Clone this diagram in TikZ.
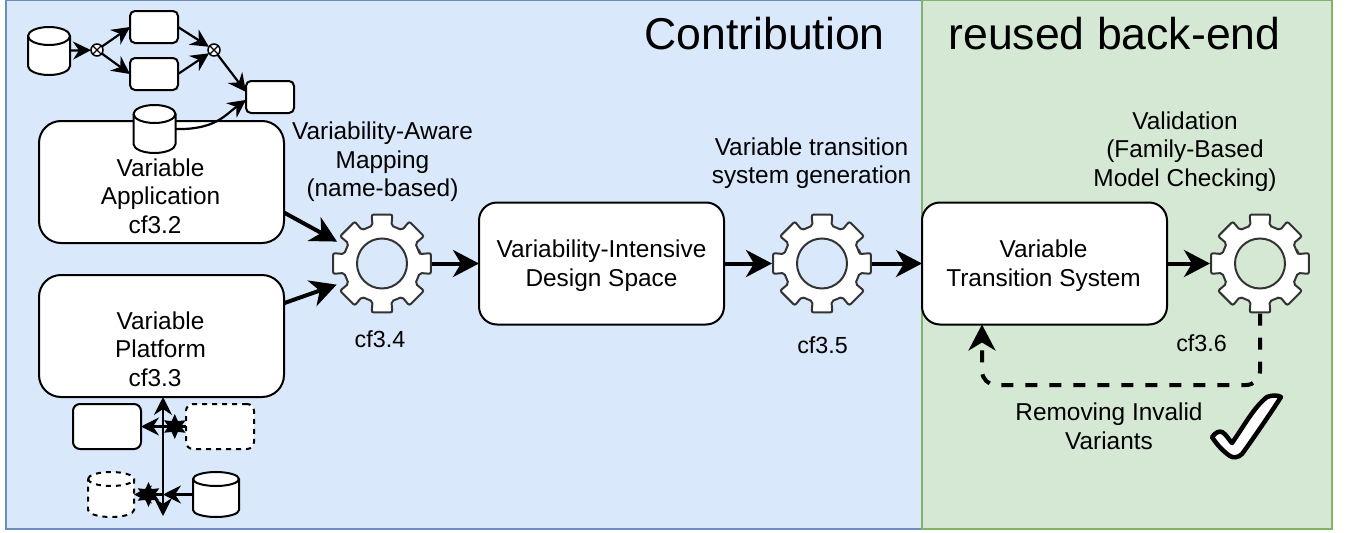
\documentclass[tikz,border=0pt]{standalone}
\usepackage{fontspec}
\setmainfont{Liberation Sans}
\usetikzlibrary{arrows.meta,shapes.geometric}

\definecolor{blueback}{HTML}{DAE8FC}
\definecolor{blueline}{HTML}{6C8EBF}
\definecolor{greenback}{HTML}{D5E8D4}
\definecolor{greenline}{HTML}{82B366}
\definecolor{gearline}{HTML}{333333}

\newcommand{\drawgear}[1]{
    \begin{scope}[shift={(#1)}]
        \draw[fill=white,even odd rule,draw=gearline,line width=2pt,rounded corners=2pt] (-14:39)
            \foreach \a in {0,45,...,315} { -- (\a-14:39) -- (\a-12:50) -- (\a+12:50) -- (\a+14:39) } -- cycle
            (0,0) circle (25);
    \end{scope}
}

% node name, half width, half height, lid height, extra options
\newcommand{\drawdb}[5]{
    \begin{scope}[shift={(#1)}]
        \pgfmathsetmacro{\lidtop}{-#3+#4}
        \pgfmathsetmacro{\lidlow}{-#3+#4+#4}
        \pgfmathsetmacro{\lidctl}{-#3+1.55*#4}
        \pgfmathsetmacro{\lidup}{-#3+.45*#4}
        \pgfmathsetmacro{\botside}{#3-#4}
        \pgfmathsetmacro{\botctl}{#3-.45*#4}
        \draw[line width=2pt,fill=white,#5] (-#2,\lidtop) .. controls (-#2,\lidup) and (-.55*#2,-#3) .. (0,-#3)
            .. controls (.55*#2,-#3) and (#2,\lidup) .. (#2,\lidtop) -- (#2,\botside)
            .. controls (#2,\botctl) and (.55*#2,#3) .. (0,#3)
            .. controls (-.55*#2,#3) and (-#2,\botctl) .. (-#2,\botside) -- cycle;
        \draw[line width=2pt,#5] (-#2,\lidtop) .. controls (-#2,\lidctl) and (-.55*#2,\lidlow) .. (0,\lidlow)
            .. controls (.55*#2,\lidlow) and (#2,\lidctl) .. (#2,\lidtop);
    \end{scope}
}

\begin{document}
\begin{tikzpicture}[x=1pt,y=-1pt]
        \tikzstyle{every node}=[outer sep=0pt,inner sep=0pt]
        \tikzstyle{panel}=[draw,line width=2pt,minimum height=529pt]
        \tikzstyle{title}=[font=\fontsize{44.6}{50}\selectfont]
        \tikzstyle{txt}=[font=\fontsize{24.4}{28.5}\selectfont,align=center]
        \tikzstyle{cflabel}=[font=\fontsize{23.3}{28}\selectfont]
        \tikzstyle{bigbox}=[draw,fill=white,line width=2pt,rounded corners=22pt,minimum width=245pt,minimum height=122pt]
        \tikzstyle{smallbox}=[draw,fill=white,line width=2pt,rounded corners=5pt,minimum width=48pt,minimum height=32pt]
        \tikzstyle{varbox}=[smallbox,rounded corners=7pt,minimum width=68pt,minimum height=45pt]
        \tikzstyle{db}=[minimum width=42pt,minimum height=48pt]
        \tikzstyle{vardb}=[minimum width=46pt,minimum height=45pt]
        \tikzstyle{xorgate}=[circle,draw,fill=white,line width=1.5pt,minimum size=12pt,path picture={
            \draw[line width=1.2pt] (path picture bounding box.south west) -- (path picture bounding box.north east)
            (path picture bounding box.north west) -- (path picture bounding box.south east);}]
        \tikzstyle{gear}=[circle,minimum size=100pt]
        \tikzstyle{flow}=[line width=2.2pt,-{Stealth[length=18pt,width=18pt,inset=6pt]}]
        \tikzstyle{bigflow}=[line width=4pt,-{Stealth[length=26pt,width=27pt,inset=8pt]}]
        \tikzstyle{xtip}=[star,star points=6,star point ratio=2,fill=black,minimum size=25pt]

        \useasboundingbox (0,0) rectangle (1345,533);

% The two panels behind everything

        \node[panel,fill=blueback,draw=blueline,minimum width=916pt,anchor=north west] (contrib) at (6,0) {};
        \node[panel,fill=greenback,draw=greenline,minimum width=410pt,anchor=north west] (backend) at (922,0) {};
        \node[title] (contribtitle) at (764.5,34) {Contribution};
        \node[title] (backendtitle) at (1114.5,34) {reused back-end};

% The main chain

        \node[bigbox] (app) at (161.5,182) {};
        \node[txt] (apptext) at (160.5,196) {Variable\\Application\\cf3.2\hspace*{11pt}};
        \node[bigbox] (platform) at (161.5,336) {};
        \node[txt] (platformtext) at (160.5,349) {Variable\\Platform\\cf3.3\hspace*{11pt}};
        \node[bigbox,rounded corners=18pt] (space) at (601.5,263.5) {};
        \node[txt] (spacetext) at (601.5,265.5) {Variability-Intensive\\Design Space};
        \node[bigbox,rounded corners=18pt] (vts) at (1044.5,263.5) {};
        \node[txt] (vtstext) at (1043.5,265.5) {Variable\\Transition System};
        \node[gear] (gearmap) at (382,263.5) {};
        \node[gear] (geargen) at (822,263.5) {};
        \node[gear] (gearval) at (1260,263.5) {};
        \drawgear{gearmap}
        \drawgear{geargen}
        \drawgear{gearval}

        \node[txt] (maplabel) at (382.5,162) {Variability-Aware\\Mapping\\(name-based)};
        \node[txt] (genlabel) at (811.5,163) {Variable transition\\system generation};
        \node[txt] (vallabel) at (1185,151.5) {Validation\\(Family-Based\\Model Checking)};
        \node[cflabel] (cfmap) at (380,339) {cf3.4};
        \node[cflabel] (cfgen) at (822.5,345) {cf3.5};
        \node[cflabel] (cfval) at (1201.5,343) {cf3.6};
        \node[txt] (removelabel) at (1109,426.5) {Removing Invalid\\Variants};

        \draw[bigflow] (app.-14) -- (gearmap.154);
        \draw[bigflow] (platform.15) -- (gearmap.205);
        \draw[bigflow] (gearmap.east) -- (space.west);
        \draw[bigflow] (space.east) -- (geargen.west);
        \draw[bigflow] (geargen.east) -- (vts.west);
        \draw[bigflow] (vts.east) -- (gearval.west);

        \coordinate (loopa) at (1260,385);
        \coordinate (loopb) at (982,385);
        \draw[bigflow,dash pattern=on 12pt off 12pt,rounded corners=14pt] (gearval.south) -- (loopa) -- (loopb) -- (loopb |- vts.south);

% The small process on top of the application

        \node[db] (dbtop) at (49,51) {};
        \node[xorgate] (xorleft) at (97,50) {};
        \node[xorgate] (xorright) at (214,50) {};
        \node[smallbox] (taska) at (154,27) {};
        \node[smallbox] (taskb) at (154,74) {};
        \node[smallbox] (taskc) at (270,97) {};
        \node[db] (dbapp) at (154.5,129) {};
        \drawdb{dbtop}{21}{24}{9}{}
        \drawdb{dbapp}{21}{24}{9}{}

        \draw[flow] (dbtop) -- (xorleft);
        \draw[flow] (xorleft) -- (taska.west);
        \draw[flow] (xorleft) -- (taskb.west);
        \draw[flow] (taska.east) -- (xorright);
        \draw[flow] (taskb.east) -- (xorright);
        \draw[flow] (xorright) -- (taskc.168);
        \draw[flow] (dbapp.east) .. controls (215,130) and (225,115) .. (taskc.187);

% The variation points under the platform

        \node[varbox] (kept) at (107,426.5) {};
        \node[varbox,dashed,dash pattern=on 5pt off 5pt] (dropped) at (220,426.5) {};
        \node[vardb] (dbdropped) at (111,494.5) {};
        \node[vardb] (dbkept) at (216,494.5) {};
        \drawdb{dbdropped}{23}{22.5}{7}{dash pattern=on 5pt off 5pt}
        \drawdb{dbkept}{23}{22.5}{7}{}
        \coordinate (busend) at (163,516);
        \coordinate (busmid) at (163,494.5);

        \draw[flow] (dropped.west) -- node[xtip,pos=.25] (stara) {} (kept.east);
        \draw[flow] (dbkept.west) -- (busmid);
        \draw[flow] (busmid) -- node[xtip,pos=.5] (starb) {} (dbdropped.east);
        \draw[flow,{Stealth[length=18pt,width=18pt,inset=6pt]}-{Stealth[length=18pt,width=18pt,inset=6pt]}] (busend) -- (busend |- platform.south);

% The tick

        \draw[fill=white,line width=4.5pt,line join=round] (1212,437)
            .. controls (1216,432) and (1219,431) .. (1222,432)
            .. controls (1226,434) and (1229,440) .. (1232,443)
            .. controls (1244,426) and (1254,407) .. (1267,397)
            .. controls (1272,395) and (1278,395) .. (1281,397)
            .. controls (1270,414) and (1255,436) .. (1242,454)
            .. controls (1238,458) and (1233,458) .. (1230,456)
            .. controls (1224,452) and (1217,445) .. cycle;

    \end{tikzpicture}
\end{document}
